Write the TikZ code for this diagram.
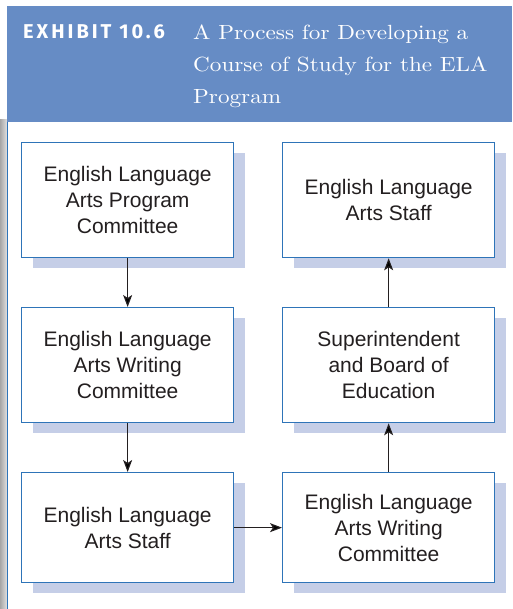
\documentclass[tikz,border=0pt]{standalone}
\usepackage{fontspec}
\newfontfamily\boxfont{Liberation Sans}
\newfontfamily\exhibitfont[LetterSpace=15]{Fira Sans}
\newfontfamily\titlefont[FakeStretch=1.13]{lmroman10-regular.otf}
\usetikzlibrary{shadows,arrows.meta}

\definecolor{bandblue}{HTML}{668CC5}
\definecolor{boxblue}{HTML}{2E74B8}
\definecolor{shadeblue}{HTML}{C5CEE7}
\definecolor{inkgray}{HTML}{231F20}

\tikzset{
  stage/.style={draw=boxblue,line width=1.3pt,fill=white,rectangle,anchor=north west,
    minimum width=212pt,minimum height=115pt,align=center,text=inkgray,
    font=\boxfont\fontsize{21}{26}\selectfont,
    drop shadow={shadow xshift=11pt,shadow yshift=-10pt,fill=shadeblue,opacity=1}},
  flow/.style={->,line width=1.1pt,draw=inkgray},
}

\begin{document}
\begin{tikzpicture}[x=1pt,y=1pt,>={Stealth[length=12pt,width=9pt,inset=3pt]}]
  \useasboundingbox (0,0) rectangle (512,-609);

  % page edge and header band
  \shade[left color=black!35,right color=black!12] (0,-120) rectangle (7,-609);
  \draw[boxblue,line width=0.8pt] (7.5,-122) -- (7.5,-609);
  \fill[bandblue] (7,-6) rectangle (512,-122);
  \node[anchor=base west,inner sep=0pt,text=white,font=\exhibitfont\bfseries\fontsize{20}{20}\selectfont] (exhibit) at (23,-39) {EXHIBIT 10.6};
  \node[anchor=north west,inner sep=0pt,text=white,align=left,font=\titlefont\fontsize{20.5}{32}\selectfont] (title) at (193,-24.5) {A Process for Developing a\\Course of Study for the ELA\\Program};

  % left column
  \node[stage] (progcomm) at (21,-142) {English Language\\Arts Program\\Committee};
  \node[stage] (writecomm) at (21,-307) {English Language\\Arts Writing\\Committee};
  \node[stage,minimum height=110pt] (staff) at (21,-472) {English Language\\Arts Staff};

  % right column
  \node[stage,minimum height=110pt] (reviewcomm) at (282,-472) {English Language\\Arts Writing\\Committee};
  \node[stage] (board) at (282,-307) {Superintendent\\and Board of\\Education};
  \node[stage] (allstaff) at (282,-142) {English Language\\Arts Staff};

  \path[flow] (progcomm) edge (writecomm) (writecomm) edge (staff)
              (staff) edge (reviewcomm);
  \path[flow] (reviewcomm) edge (board) (board) edge (allstaff);
\end{tikzpicture}
\end{document}
